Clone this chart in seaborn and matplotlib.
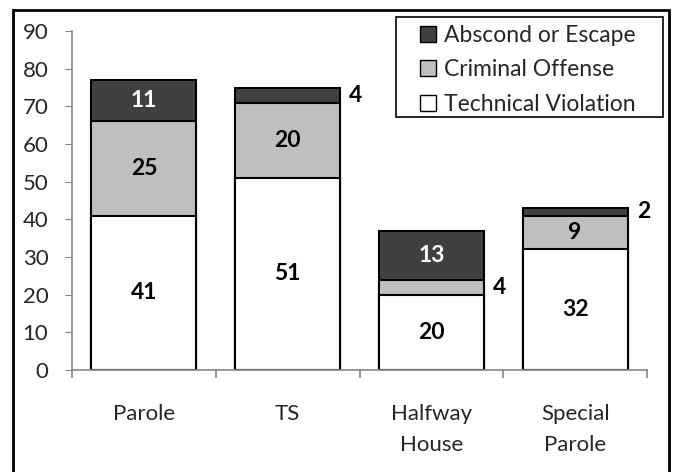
import pandas as pd
import matplotlib.pyplot as plt
import seaborn as sns
from matplotlib.patches import Patch, Rectangle

sns.set_style("white")
plt.rcParams["font.family"] = ["Lato", "DejaVu Sans"]

# data
categories = ["Parole", "TS", "Halfway\nHouse", "Special\nParole"]
technical = [41, 51, 20, 32]
criminal = [25, 20, 4, 9]
abscond = [11, 4, 13, 2]

df = pd.DataFrame({"cat": categories, "tech": technical,
                   "crim": criminal, "absc": abscond})
df["tech_crim"] = df["tech"] + df["crim"]
df["total"] = df["tech_crim"] + df["absc"]

fig = plt.figure(figsize=(6.75, 4.72), dpi=100)
ax = fig.add_axes([0.1067, 0.2161, 0.8518, 0.7182])

edge = dict(edgecolor="black", linewidth=1.5, width=0.73)
# stacked bars drawn as cumulative totals, top layer first
sns.barplot(data=df, x="cat", y="total", color="#404040", ax=ax, saturation=1, **edge)
sns.barplot(data=df, x="cat", y="tech_crim", color="#bfbfbf", ax=ax, saturation=1, **edge)
sns.barplot(data=df, x="cat", y="tech", color="white", ax=ax, saturation=1, **edge)

ax.set_xlim(-0.5, 3.5)
ax.set_ylim(0, 90)
ax.set_yticks(range(0, 91, 10))
ax.set_xlabel("")
ax.set_ylabel("")

for s in ["top", "right"]:
    ax.spines[s].set_visible(False)
for s in ["left", "bottom"]:
    ax.spines[s].set_color("#868686")
    ax.spines[s].set_linewidth(1.2)

ax.tick_params(axis="y", which="major", left=True, length=5, color="#868686",
               labelsize=16, pad=12)
ax.tick_params(axis="x", which="major", bottom=False, labelsize=16, pad=21)
for t in ax.get_xticklabels():
    t.set_linespacing(1.7)
ax.set_xticks([-0.5, 0.5, 1.5, 2.5, 3.5], minor=True)
ax.tick_params(axis="x", which="minor", bottom=True, length=6, color="#868686", width=1.2)

lab = dict(fontsize=16.5, fontweight="bold", ha="center", va="center")
half = 0.73 / 2
for i, row in df.iterrows():
    # technical violation
    ax.text(i, row["tech"] / 2, str(row["tech"]), color="black", **lab)
    # criminal offense
    if row["crim"] >= 8:
        ax.text(i, row["tech"] + row["crim"] / 2, str(row["crim"]), color="black", **lab)
    else:
        ax.text(i + half + 0.11, row["tech"] + row["crim"] / 2, str(row["crim"]),
                color="black", **lab)
    # abscond or escape
    if row["absc"] >= 8:
        ax.text(i, row["tech_crim"] + row["absc"] / 2, str(row["absc"]), color="white", **lab)
    else:
        ax.text(i + half + 0.11, row["tech_crim"] + row["absc"] / 2, str(row["absc"]),
                color="black", **lab)

handles = [Patch(facecolor="#404040", edgecolor="black", label="Abscond or Escape"),
           Patch(facecolor="#bfbfbf", edgecolor="black", label="Criminal Offense"),
           Patch(facecolor="white", edgecolor="black", label="Technical Violation")]
leg = ax.legend(handles=handles, loc="upper left", bbox_to_anchor=(420 / 675, 1 - 25 / 472),
                bbox_transform=fig.transFigure, borderaxespad=0, borderpad=0,
                fontsize=16.5, frameon=False, handlelength=0.7, handleheight=0.7,
                handletextpad=0.35, labelspacing=0.58)

# legend frame as in the reference (wider padding at the sides)
fig.patches.append(Rectangle((396 / 675, 1 - 117 / 472), 267 / 675, 100 / 472,
                             transform=fig.transFigure, fill=False,
                             edgecolor="black", linewidth=1.2))
# outer border
fig.patches.append(Rectangle((13 / 675, -0.02), 656 / 675, 1.02 - 10 / 472,
                             transform=fig.transFigure, fill=False,
                             edgecolor="black", linewidth=2))

plt.savefig("out.png", dpi=100)
plt.close()
